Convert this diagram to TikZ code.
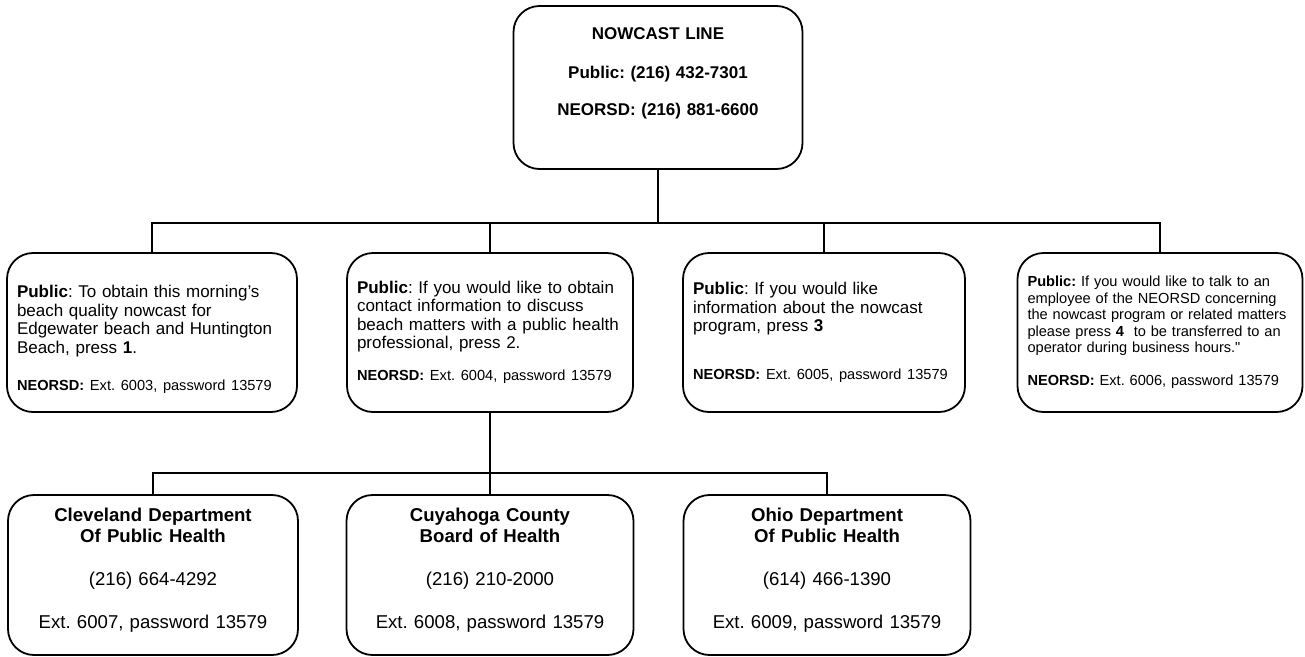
\documentclass[tikz,border=0pt]{standalone}
\usepackage{fontspec}
\setmainfont{Liberation Sans}
\frenchspacing
\newcommand{\topfont}{\fontsize{17}{19}\selectfont\bfseries}
\newcommand{\bodyfont}{\fontsize{17}{18.5}\selectfont}
\newcommand{\smallbody}{\fontsize{14.6}{16.5}\selectfont}
\newcommand{\extfont}{\fontsize{14.6}{16.5}\selectfont}
\newcommand{\healthfont}{\fontsize{18.6}{21}\selectfont}
\begin{document}
\begin{tikzpicture}[x=1pt,y=-1pt,
	box/.style={draw, line width=1.8pt, rounded corners=26pt, minimum height=159pt, inner xsep=10pt, inner ysep=0pt, align=left, font=\bodyfont},
	link/.style={line width=1.8pt}]
	\useasboundingbox (0,0) rectangle (1305,656);
	%top of the tree
	\node[box, align=center, font=\topfont, minimum width=289pt, text width=269pt, minimum height=163pt] (nowcast) at (658,87.5)
		{NOWCAST LINE\\[20pt]
		Public: (216) 432-7301\\[18pt]
		NEORSD: (216) 881-6600\\[13.6pt]\mbox{}};
	%menu options
	\node[box, minimum width=290pt, text width=270pt] (press1) at (152,332.5)
		{\mbox{}\\[8pt]
		\textbf{Public}: To obtain this morning’s\\
		beach quality nowcast for\\
		Edgewater beach and Huntington\\
		Beach, press \textbf{1}.\\[18.5pt]
		{\extfont\textbf{NEORSD:} Ext. 6003, password 13579}};
	\node[box, minimum width=286pt, text width=266pt] (press2) at (490,332.5)
		{\textbf{Public}: If you would like to obtain\\
		contact information to discuss\\
		beach matters with a public health\\
		professional, press 2.\\[13.5pt]
		{\extfont\textbf{NEORSD:} Ext. 6004, password 13579}};
	\node[box, minimum width=282pt, text width=262pt] (press3) at (824,332.5)
		{\textbf{Public}: If you would like\\
		information about the nowcast\\
		program, press \textbf{3}\\[29.5pt]
		{\extfont\textbf{NEORSD:} Ext. 6005, password 13579}};
	\node[box, font=\smallbody, minimum width=285pt, text width=265pt] (press4) at (1160,332.5)
		{\textbf{Public:} If you would like to talk to an\\
		employee of the NEORSD concerning\\
		the nowcast program or related matters\\
		please press \textbf{4}\ \ to be transferred to an\\
		operator during business hours.\textquotedbl\\[16.5pt]
		\textbf{NEORSD:} Ext. 6006, password 13579};
	%health contacts
	\node[box, align=center, font=\healthfont, minimum width=290pt, text width=270pt, minimum height=160pt] (cleveland) at (153,575)
		{\textbf{Cleveland Department}\\
		\textbf{Of Public Health}\\[22pt]
		(216) 664-4292\\[22pt]
		Ext. 6007, password 13579\\[-7pt]\mbox{}};
	\node[box, align=center, font=\healthfont, minimum width=287pt, text width=267pt, minimum height=160pt] (cuyahoga) at (490,575)
		{\textbf{Cuyahoga County}\\
		\textbf{Board of Health}\\[22pt]
		(216) 210-2000\\[22pt]
		Ext. 6008, password 13579\\[-7pt]\mbox{}};
	\node[box, align=center, font=\healthfont, minimum width=287pt, text width=267pt, minimum height=160pt] (ohio) at (827,575)
		{\textbf{Ohio Department}\\
		\textbf{Of Public Health}\\[22pt]
		(614) 466-1390\\[22pt]
		Ext. 6009, password 13579\\[-7pt]\mbox{}};
	%connectors
	\draw[link] (nowcast.south) -- ++(0,53) -| (press1.north);
	\draw[link] (nowcast.south) -- ++(0,53) -| (press2.north);
	\draw[link] (nowcast.south) -- ++(0,53) -| (press3.north);
	\draw[link] (nowcast.south) -- ++(0,53) -| (press4.north);
	\draw[link] (press2.south) -- ++(0,60) -| (cleveland.north);
	\draw[link] (press2.south) -- (cuyahoga.north);
	\draw[link] (press2.south) -- ++(0,60) -| (ohio.north);
\end{tikzpicture}
\end{document}
